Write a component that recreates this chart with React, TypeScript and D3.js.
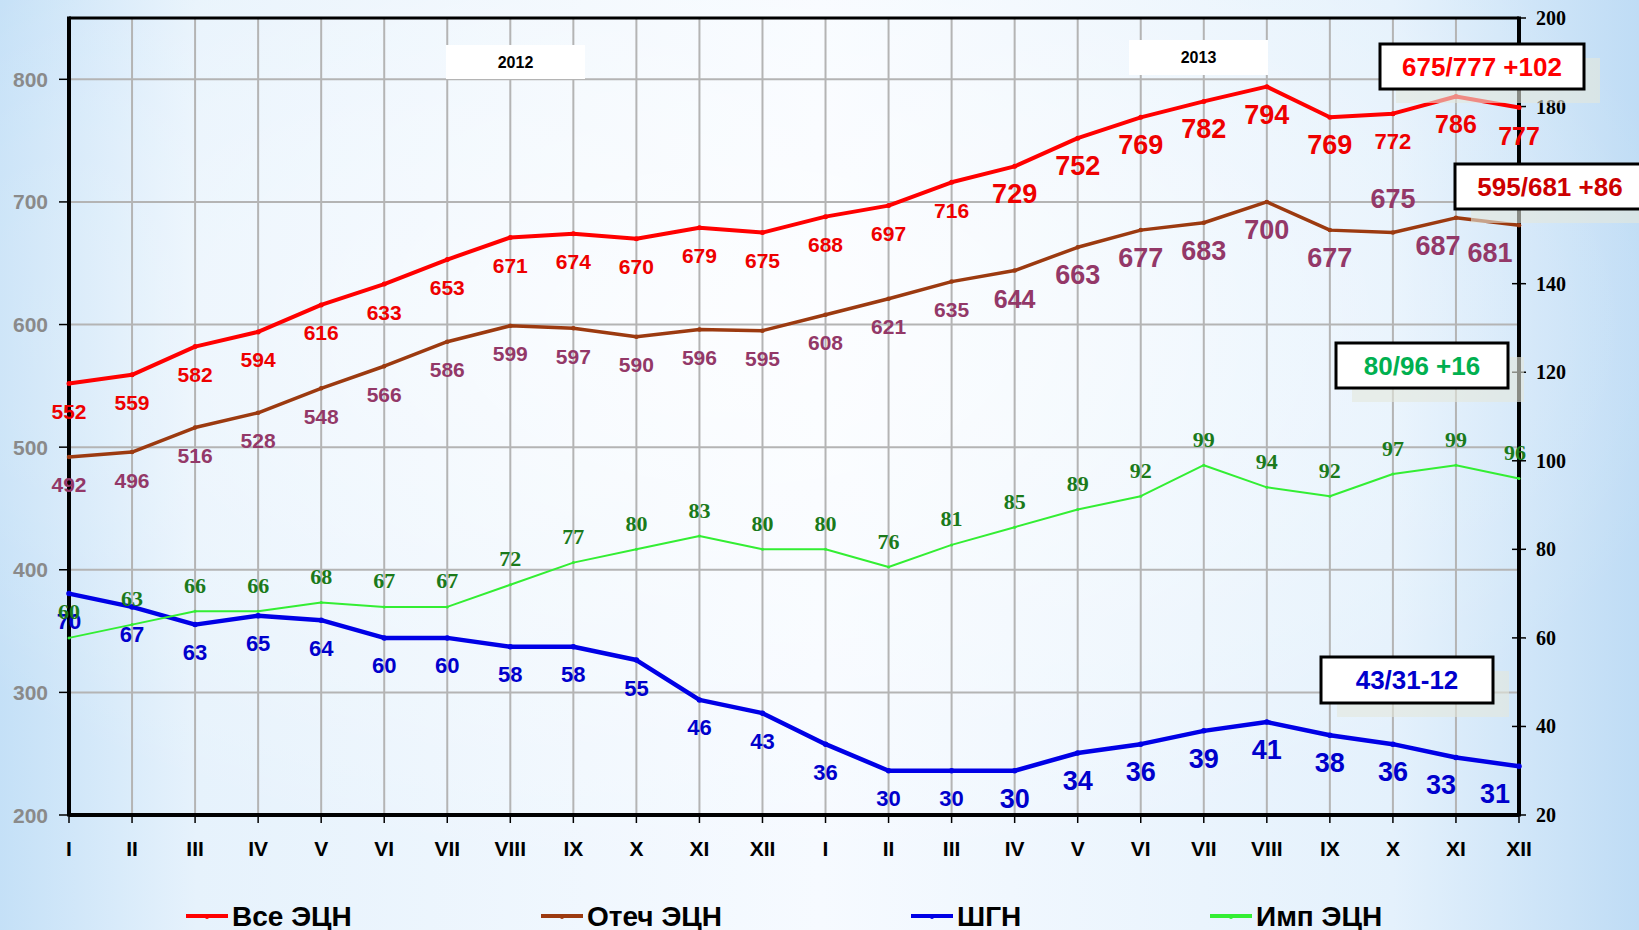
import React from "react";
import * as d3 from "d3";

// month labels, two years
const months = ["I", "II", "III", "IV", "V", "VI", "VII", "VIII", "IX", "X", "XI", "XII"];
const categories = [...months, ...months];

// left axis series
const allEcn = [552, 559, 582, 594, 616, 633, 653, 671, 674, 670, 679, 675, 688, 697, 716, 729, 752, 769, 782, 794, 769, 772, 786, 777];
const otechEcn = [492, 496, 516, 528, 548, 566, 586, 599, 597, 590, 596, 595, 608, 621, 635, 644, 663, 677, 683, 700, 677, 675, 687, 681];
// right axis series
const shgn = [70, 67, 63, 65, 64, 60, 60, 58, 58, 55, 46, 43, 36, 30, 30, 30, 34, 36, 39, 41, 38, 36, 33, 31];
const impEcn = [60, 63, 66, 66, 68, 67, 67, 72, 77, 80, 83, 80, 80, 76, 81, 85, 89, 92, 99, 94, 92, 97, 99, 96];

const leftTicks = [200, 300, 400, 500, 600, 700, 800];
const rightTicks = [20, 40, 60, 80, 100, 120, 140, 160, 180, 200];
const years = ["2012", "2013"];
const legendNames = ["Все ЭЦН", "Отеч ЭЦН", "ШГН", "Имп ЭЦН"];
const notes = ["675/777 +102", "595/681 +86", "80/96 +16", "43/31-12"];

const W = 1639;
const H = 930;
const L = 69;
const R = 1519;
const T = 18;
const B = 815;

const SANS = "'Liberation Sans', Arial, sans-serif";
const SERIF = "'Liberation Serif', 'Times New Roman', serif";

export default function App() {
  const x = d3.scaleLinear().domain([0, categories.length - 1]).range([L, R]);
  const yL = d3.scaleLinear().domain([200, 850]).range([B, T]);
  const yR = d3.scaleLinear().domain([20, 200]).range([B, T]);

  const lineL = d3.line<number>().x((_, i) => x(i)).y((d) => yL(d));
  const lineR = d3.line<number>().x((_, i) => x(i)).y((d) => yR(d));

  const series = [
    { name: legendNames[0], data: allEcn, y: yL, line: lineL, color: "#ff0000", width: 4, label: "#ee0000" },
    { name: legendNames[1], data: otechEcn, y: yL, line: lineL, color: "#9c3a10", width: 3.5, label: "#933868" },
    { name: legendNames[2], data: shgn, y: yR, line: lineR, color: "#0000e6", width: 4.5, label: "#0000cc" },
    { name: legendNames[3], data: impEcn, y: yR, line: lineR, color: "#33ee33", width: 2, label: "#1b7a1b" },
  ];

  // label font size per series / index
  const labelSize = (s: number, i: number) => {
    if (s === 0) {
      if (i < 15) return 21;
      if (i === 21) return 22;
      if (i >= 22) return 25;
      return 27;
    }
    if (s === 1) {
      if (i < 15) return 21;
      if (i === 15) return 25;
      return 27;
    }
    if (s === 2) {
      if (i < 15) return 22;
      return 27;
    }
    return 22;
  };
  const labelDx = (s: number, i: number) => {
    if (s === 1 && i === 22) return -18;
    if (s === 1 && i === 23) return -29;
    if (s === 2 && i === 23) return -24;
    if (s === 2 && i === 22) return -15;
    if (s === 3 && i === 23) return -4;
    return 0;
  };
  const labelDy = (s: number, i: number) => {
    if (s === 3) return -26;
    if (s === 1 && i === 21) return -34;
    return 28;
  };

  const noteBoxes = [
    { x: 1380, y: 44, w: 204, h: 45, color: "#ff0000" },
    { x: 1455, y: 164, w: 190, h: 45, color: "#cc0000" },
    { x: 1336, y: 343, w: 172, h: 45, color: "#00b050" },
    { x: 1321, y: 657, w: 172, h: 46, color: "#0000cc" },
  ];
  const yearBoxes = [
    { x: 446, y: 45, w: 139, h: 34 },
    { x: 1129, y: 40, w: 139, h: 35 },
  ];
  const legendX = [186, 541, 911, 1210];

  return (
    <svg width={W} height={H} style={{ position: "absolute", left: 0, top: 0 }}>
      <defs>
        <linearGradient id="bg" x1="0" y1="0" x2="1" y2="0">
          <stop offset="0" stopColor="#c4e0f7" />
          <stop offset="0.12" stopColor="#e6f2fc" />
          <stop offset="0.5" stopColor="#f6faff" />
          <stop offset="0.85" stopColor="#e4f1fc" />
          <stop offset="1" stopColor="#bfdcf5" />
        </linearGradient>
        <radialGradient id="glow" cx="0.45" cy="0.35" r="0.6">
          <stop offset="0" stopColor="#ffffff" stopOpacity="0.7" />
          <stop offset="1" stopColor="#ffffff" stopOpacity="0" />
        </radialGradient>
      </defs>
      <rect width={W} height={H} fill="url(#bg)" />
      <rect width={W} height={H} fill="url(#glow)" />

      {/* grid */}
      {categories.map((_, i) => (
        <line key={"gv" + i} x1={x(i)} x2={x(i)} y1={T} y2={B} stroke="#b4b4b4" strokeWidth={2} />
      ))}
      {leftTicks.map((t) => (
        <line key={"gh" + t} x1={L} x2={R} y1={yL(t)} y2={yL(t)} stroke="#b4b4b4" strokeWidth={2} />
      ))}

      {/* year boxes */}
      {yearBoxes.map((b, i) => (
        <g key={"yr" + i}>
          <rect x={b.x} y={b.y} width={b.w} height={b.h} fill="#ffffff" />
          <text x={b.x + b.w / 2} y={b.y + b.h / 2} textAnchor="middle" dominantBaseline="central"
            fontFamily={SANS} fontWeight="bold" fontSize={16} fill="#000">{years[i]}</text>
        </g>
      ))}

      {/* frame */}
      <line x1={L} x2={R} y1={T} y2={T} stroke="#000" strokeWidth={3} />
      <line x1={L} x2={L} y1={T - 1.5} y2={B + 1.5} stroke="#000" strokeWidth={4} />
      <line x1={R} x2={R} y1={T - 1.5} y2={B + 1.5} stroke="#000" strokeWidth={4} />
      <line x1={L} x2={R} y1={B} y2={B} stroke="#000" strokeWidth={4} />

      {/* left axis */}
      {leftTicks.map((t) => (
        <g key={"lt" + t}>
          <line x1={L - 10} x2={L} y1={yL(t)} y2={yL(t)} stroke="#000" strokeWidth={1.5} />
          <text x={48} y={yL(t)} textAnchor="end" dominantBaseline="central"
            fontFamily={SANS} fontWeight="bold" fontSize={21} fill="#8a8a8a">{t}</text>
        </g>
      ))}
      {/* right axis */}
      {rightTicks.map((t) => (
        <g key={"rt" + t}>
          <line x1={R - 7} x2={R + 7} y1={yR(t)} y2={yR(t)} stroke="#000" strokeWidth={1.5} />
          <text x={1536} y={yR(t)} textAnchor="start" dominantBaseline="central"
            fontFamily={SERIF} fontWeight="bold" fontSize={20} fill="#000">{t}</text>
        </g>
      ))}
      {/* x axis */}
      {categories.map((c, i) => (
        <g key={"xt" + i}>
          <line x1={x(i)} x2={x(i)} y1={B} y2={B + 8} stroke="#000" strokeWidth={1.5} />
          <text x={x(i)} y={848} textAnchor="middle" dominantBaseline="central"
            fontFamily={SANS} fontWeight="bold" fontSize={21} fill="#000">{c}</text>
        </g>
      ))}

      {/* series lines */}
      {series.map((s, si) => (
        <g key={"s" + si}>
          <path d={s.line(s.data) || ""} fill="none" stroke={s.color} strokeWidth={s.width} strokeLinejoin="round" />
          {s.data.map((d, i) => (
            <circle key={i} cx={x(i)} cy={s.y(d)} r={s.width / 2 + 0.5} fill={s.color} />
          ))}
        </g>
      ))}

      {/* value labels */}
      {series.map((s, si) => (
        <g key={"lab" + si}>
          {s.data.map((d, i) => (
            <text key={i} x={x(i) + labelDx(si, i)} y={s.y(d) + labelDy(si, i)} textAnchor="middle"
              dominantBaseline="central" fontFamily={si === 3 ? SERIF : SANS} fontWeight="bold"
              fontSize={labelSize(si, i)} fill={s.label}>{d}</text>
          ))}
        </g>
      ))}

      {/* note boxes */}
      {noteBoxes.map((b, i) => (
        <g key={"nb" + i}>
          <rect x={b.x + 16} y={b.y + 14} width={b.w} height={b.h} fill="#e4e8dc" fillOpacity={0.6} />
          <rect x={b.x} y={b.y} width={b.w} height={b.h} fill="#ffffff" stroke="#000" strokeWidth={3} />
          <text x={b.x + b.w / 2} y={b.y + b.h / 2} textAnchor="middle" dominantBaseline="central"
            fontFamily={SANS} fontWeight="bold" fontSize={26} fill={b.color}>{notes[i]}</text>
        </g>
      ))}

      {/* legend */}
      {series.map((s, i) => (
        <g key={"lg" + i} transform={`translate(${legendX[i]},916)`}>
          <line x1={0} x2={42} y1={0} y2={0} stroke={s.color} strokeWidth={4} />
          <circle cx={21} cy={1} r={2} fill={s.color} />
          <text x={46} y={0} dominantBaseline="central" fontFamily={SANS} fontWeight="bold"
            fontSize={28} fill="#000">{s.name}</text>
        </g>
      ))}
    </svg>
  );
}
